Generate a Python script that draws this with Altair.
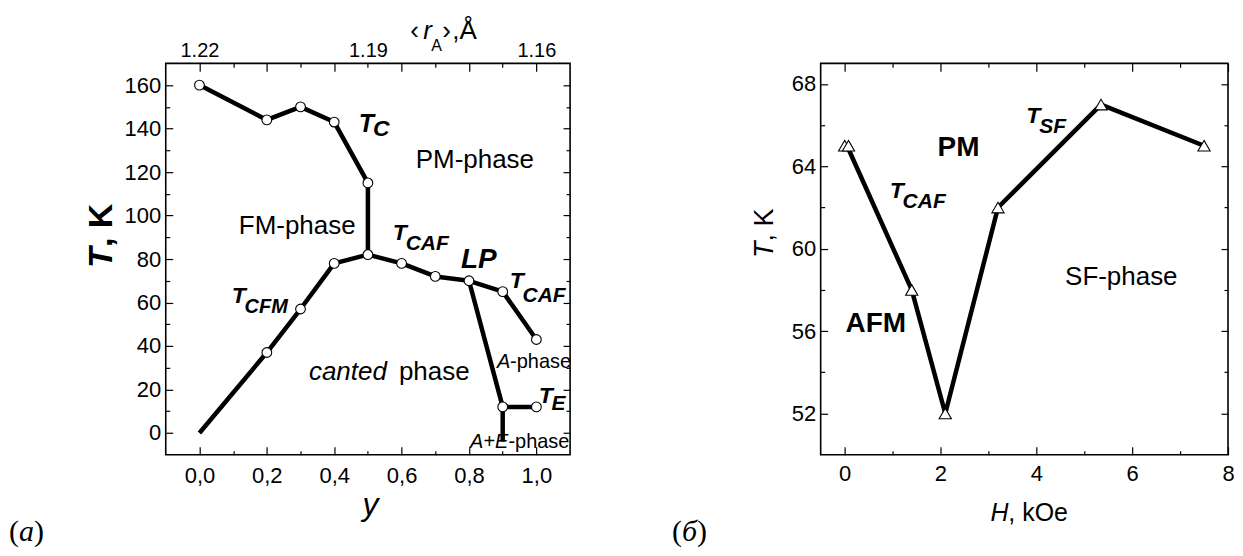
import altair as alt
import pandas as pd

NARROW = "Liberation Sans, Arial, sans-serif"
SANS = "Liberation Sans, Arial, sans-serif"
SERIF = "Liberation Serif, Times New Roman, serif"

# ---------------- panel (a) data ----------------
a_tc_y = [0.0, 0.2, 0.3, 0.4, 0.5, 0.5]
a_tc_T = [160, 144, 150, 143, 115, 82]
a_caf_y = [0.5, 0.6, 0.7, 0.8, 0.9, 1.0]
a_caf_T = [82, 78, 72, 70, 65, 43]
a_cfm_y = [0.0, 0.2, 0.3, 0.4, 0.5]
a_cfm_T = [0, 37, 57, 78, 82]
a_lp_y = [0.8, 0.9, 1.0]
a_lp_T = [70, 12, 12]
a_ae_y = [0.9, 0.9]
a_ae_T = [12, -4]
a_pt_y = [0.0, 0.2, 0.3, 0.4, 0.5, 0.5, 0.6, 0.7, 0.8, 0.9, 1.0, 0.2, 0.3, 0.4, 0.9, 1.0]
a_pt_T = [160, 144, 150, 143, 115, 82, 78, 72, 70, 65, 43, 37, 57, 78, 12, 12]

a_x_major = [0.0, 0.2, 0.4, 0.6, 0.8, 1.0]
a_x_minor = [0.1, 0.3, 0.5, 0.7, 0.9]
a_y_major = [0, 20, 40, 60, 80, 100, 120, 140, 160]
a_y_minor = [10, 30, 50, 70, 90, 110, 130, 150]
a_top_pos = [0.0, 0.5, 1.0]
a_top_lab = ["1.22", "1.19", "1.16"]

# annotations inside panel (a) (data coordinates)
a_bi_text = ["T", "C", "T", "CAF", "LP", "T", "CAF", "T", "CFM", "T", "E"]
a_bi_x = [0.473, 0.515, 0.574, 0.612, 0.776, 0.921, 0.959, 0.096, 0.134, 1.007, 1.045]
a_bi_y = [138.4, 136.6, 88.8, 84.2, 75.9, 66.8, 60.4, 59.9, 55.3, 13.9, 10.7]
a_bi_size = [25, 23, 23, 21, 28, 23, 21, 23, 20, 23, 21]

a_rg_text = ["PM-phase", "FM-phase", "phase", "-phase", "-phase"]
a_rg_x = [0.642, 0.117, 0.592, 0.922, 0.917]
a_rg_y = [121.8, 91.6, 24.5, 30.0, -6.7]
a_rg_size = [26, 26, 26, 20, 20]

a_it_text = ["canted", "A", "A+E"]
a_it_x = [0.325, 0.883, 0.803]
a_it_y = [24.5, 30.0, -6.7]
a_it_size = [26, 20, 20]

# texts outside the plot area of (a)
a_ytitle = ["T", ", K"]
a_xtitle = ["y"]
a_toptitle = ["\u2039", "r", "A", "\u203a", ",\u00c5"]
a_panel = ["(", "a", ")"]

# ---------------- panel (b) data ----------------
b_line_H = [0.05, 1.4, 2.1, 3.2, 5.35, 7.5]
b_line_T = [65, 58, 52, 62, 67, 65]
b_pt_H = [0.0, 0.08, 1.4, 2.1, 3.2, 5.35, 7.5]
b_pt_T = [65, 65, 58, 52, 62, 67, 65]

b_x_major = [0, 2, 4, 6, 8]
b_x_minor = [1, 3, 5, 7]
b_y_major = [52, 56, 60, 64, 68]
b_y_minor = [54, 58, 62, 66]

b_bd_text = ["PM", "AFM"]
b_bd_x = [1.94, 0.02]
b_bd_y = [64.49, 55.96]
b_bd_size = [28, 28]

b_rg_text = ["SF-phase"]
b_rg_x = [4.60]
b_rg_y = [58.24]
b_rg_size = [26]

b_bi_text = ["T", "CAF", "T", "SF"]
b_bi_x = [0.94, 1.21, 3.79, 4.06]
b_bi_y = [62.46, 61.97, 66.09, 65.61]
b_bi_size = [23, 21, 23, 21]

b_ytitle = ["T", ", K"]
b_xtitle = ["H", ", kOe"]
b_panel = ["(", "\u0431", ")"]

# ---------------- helpers ----------------
def axis(orient, values, tick, labels=True, pad=0, expr=None, ticks=True, size=22):
    kw = dict(orient=orient, values=values, title=None, domain=False, grid=False,
              labels=labels, ticks=ticks)
    if ticks:
        kw.update(tickSize=tick, offset=-tick, tickColor="black", tickWidth=1.2)
    if labels:
        kw.update(labelFont=NARROW, labelFontSize=size, labelColor="black",
                  labelPadding=pad, labelFlush=False, labelOverlap=False, labelBound=False)
    if expr:
        kw["labelExpr"] = expr
    return alt.Axis(**kw)


def text_layer(texts, xs, ys, sizes, xsc, ysc, font, style="normal", weight="normal",
               xaxis=None, yaxis=None):
    df = pd.DataFrame({"t": texts, "x": xs, "y": ys, "s": sizes})
    return alt.Chart(df).mark_text(
        font=font, fontStyle=style, fontWeight=weight, align="left",
        baseline="alphabetic", color="black"
    ).encode(
        x=alt.X("x:Q", scale=xsc, axis=xaxis),
        y=alt.Y("y:Q", scale=ysc, axis=yaxis),
        text="t:N",
        size=alt.Size("s:Q", scale=None, legend=None),
    )


def pix_label(text, px, py, font, size, style="normal", weight="normal", angle=0, align="left"):
    df = pd.DataFrame({"t": [text]})
    return alt.Chart(df).mark_text(
        font=font, fontSize=size, fontStyle=style, fontWeight=weight, angle=angle,
        align=align, baseline="alphabetic", color="black"
    ).encode(x=alt.value(px), y=alt.value(py), text="t:N")


def lines_df(groups):
    rows = []
    for gi, (xs, ys) in enumerate(groups):
        for oi, (xv, yv) in enumerate(zip(xs, ys)):
            rows.append({"g": gi, "o": oi, "x": xv, "y": yv})
    return pd.DataFrame(rows)


comma_expr = "replace(format(datum.value, '.1f'), '.', ',')"
top_expr = " : ".join(
    f"datum.value == {p} ? '{l}'" for p, l in zip(a_top_pos[:-1], a_top_lab[:-1])
) + f" : '{a_top_lab[-1]}'"

# ---------------- panel (a) ----------------
xs_a = alt.Scale(domain=[-0.1, 1.1], nice=False, zero=False)
ys_a = alt.Scale(domain=[-10, 170], nice=False, zero=False)

a_lines = alt.Chart(lines_df([(a_tc_y, a_tc_T), (a_caf_y, a_caf_T), (a_cfm_y, a_cfm_T),
                              (a_lp_y, a_lp_T), (a_ae_y, a_ae_T)])).mark_line(
    color="black", strokeWidth=4.5, strokeJoin="round"
).encode(
    x=alt.X("x:Q", scale=xs_a, axis=axis("bottom", a_x_major, 8, pad=11, expr=comma_expr)),
    y=alt.Y("y:Q", scale=ys_a, axis=axis("left", a_y_major, 7, pad=5)),
    detail="g:N", order="o:Q",
)

a_points = alt.Chart(pd.DataFrame({"x": a_pt_y, "y": a_pt_T})).mark_point(
    shape="circle", filled=True, fill="white", stroke="black", strokeWidth=1.1,
    size=95, opacity=1
).encode(
    x=alt.X("x:Q", scale=xs_a, axis=axis("bottom", a_x_minor, 4, labels=False)),
    y=alt.Y("y:Q", scale=ys_a, axis=axis("left", a_y_minor, 4, labels=False)),
)

a_t1 = text_layer(a_bi_text, a_bi_x, a_bi_y, a_bi_size, xs_a, ys_a, NARROW, "italic", "bold",
                  xaxis=axis("top", a_x_major, 8, labels=False),
                  yaxis=axis("right", a_y_major, 7, labels=False))
a_t2 = text_layer(a_rg_text, a_rg_x, a_rg_y, a_rg_size, xs_a, ys_a, NARROW,
                  xaxis=axis("top", a_x_minor, 4, labels=False),
                  yaxis=axis("right", a_y_minor, 4, labels=False))
a_t3 = text_layer(a_it_text, a_it_x, a_it_y, a_it_size, xs_a, ys_a, NARROW, "italic",
                  xaxis=axis("top", a_top_pos, 0, pad=3, expr=top_expr, ticks=False, size=20))

a_pix = [
    pix_label(a_ytitle[0], -54, 205, SANS, 34, "italic", "bold", angle=270),
    pix_label(a_ytitle[1], -54, 184, SANS, 34, "normal", "bold", angle=270),
    pix_label(a_xtitle[0], 205, 452, SANS, 32, "italic", align="center"),
    pix_label(a_toptitle[0], 245, -24, NARROW, 26),
    pix_label(a_toptitle[1], 258, -24, NARROW, 26, "italic"),
    pix_label(a_toptitle[2], 266, -12, NARROW, 16),
    pix_label(a_toptitle[3], 277, -24, NARROW, 26),
    pix_label(a_toptitle[4], 287, -24, NARROW, 26),
    pix_label(a_panel[0], -157, 478, SERIF, 30),
    pix_label(a_panel[1], -147, 478, SERIF, 30, "italic"),
    pix_label(a_panel[2], -132, 478, SERIF, 30),
]

panel_a = alt.layer(a_lines, a_points, a_t1, a_t2, a_t3, *a_pix).resolve_axis(
    x="independent", y="independent"
).properties(width=405, height=392)

# ---------------- panel (b) ----------------
xs_b = alt.Scale(domain=[-0.5, 8], nice=False, zero=False)
ys_b = alt.Scale(domain=[50, 69], nice=False, zero=False)

b_lines = alt.Chart(lines_df([(b_line_H, b_line_T)])).mark_line(
    color="black", strokeWidth=4.5, strokeJoin="round"
).encode(
    x=alt.X("x:Q", scale=xs_b, axis=axis("bottom", b_x_major, 8, pad=9)),
    y=alt.Y("y:Q", scale=ys_b, axis=axis("left", b_y_major, 7, pad=5)),
    detail="g:N", order="o:Q",
)

b_points = alt.Chart(pd.DataFrame({"x": b_pt_H, "y": b_pt_T})).mark_point(
    shape="triangle-up", filled=True, fill="white", stroke="black", strokeWidth=1.1,
    size=150, opacity=1
).encode(
    x=alt.X("x:Q", scale=xs_b, axis=axis("bottom", b_x_minor, 4, labels=False)),
    y=alt.Y("y:Q", scale=ys_b, axis=axis("left", b_y_minor, 4, labels=False)),
)

b_t1 = text_layer(b_bd_text, b_bd_x, b_bd_y, b_bd_size, xs_b, ys_b, NARROW, "normal", "bold",
                  xaxis=axis("top", b_x_major, 8, labels=False),
                  yaxis=axis("right", b_y_major, 7, labels=False))
b_t2 = text_layer(b_bi_text, b_bi_x, b_bi_y, b_bi_size, xs_b, ys_b, NARROW, "italic", "bold",
                  xaxis=axis("top", b_x_minor, 4, labels=False),
                  yaxis=axis("right", b_y_minor, 4, labels=False))
b_t3 = text_layer(b_rg_text, b_rg_x, b_rg_y, b_rg_size, xs_b, ys_b, NARROW)

b_pix = [
    pix_label(b_ytitle[0], -48, 195, SANS, 27, "italic", angle=270),
    pix_label(b_ytitle[1], -48, 178.5, SANS, 27, angle=270),
    pix_label(b_xtitle[0], 170, 458, NARROW, 25, "italic"),
    pix_label(b_xtitle[1], 188, 458, NARROW, 25),
    pix_label(b_panel[0], -149, 478, SERIF, 30),
    pix_label(b_panel[1], -139, 478, SERIF, 30, "italic"),
    pix_label(b_panel[2], -124, 478, SERIF, 30),
]

panel_b = alt.layer(b_lines, b_points, b_t1, b_t2, b_t3, *b_pix).resolve_axis(
    x="independent", y="independent"
).properties(width=408, height=392)

chart = alt.hconcat(panel_a, panel_b, spacing=251, bounds="flush").configure_view(
    stroke="black", strokeWidth=1.6
).configure_axis(grid=False).properties(
    padding={"left": 0, "top": 9, "right": 0, "bottom": 0},
    background="white",
)

chart.save("out.html", embed_options={"renderer": "svg", "actions": False})
